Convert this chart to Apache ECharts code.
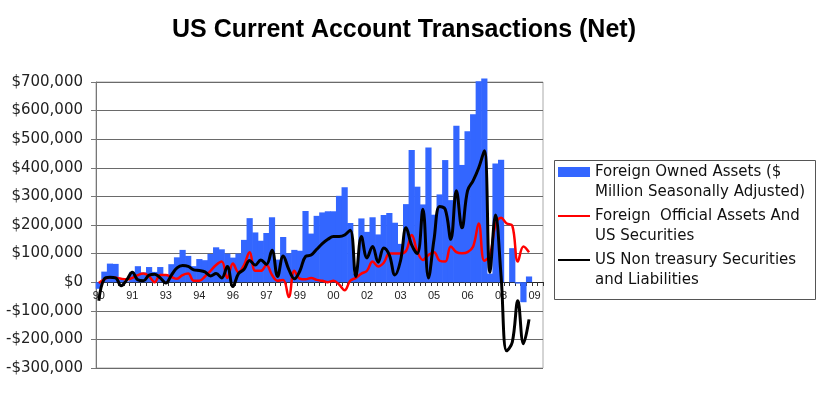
<!DOCTYPE html>
<html>
<head>
<meta charset="utf-8">
<script src="https://cdn.jsdelivr.net/npm/echarts@6/dist/echarts.min.js"></script>
<style>
html,body{margin:0;padding:0;background:#fff;}
#chart{width:820px;height:395px;}
</style>
</head>
<body>
<div id="chart"></div>
<script>
// Two-digit year labels; each year has four quarters on the category axis
const years = ['90','91','92','93','94','95','96','97','98','99','00','01','02','03','04','05','06','07','08','09'];
const quarterNames = ['Q1','Q2','Q3','Q4'];

// Foreign Owned Assets ($ Million Seasonally Adjusted), quarterly
const foreignOwned = [-23000, 37000, 65000, 64000, 8000, 3000, 36000, 56000, 34000, 53000,
  36000, 53000, 23000, 63000, 87000, 113000, 92000, 56000, 81000, 77000,
  99000, 122000, 115000, 100000, 86000, 100000, 148000, 224000, 174000, 145000,
  172000, 227000, 79000, 158000, 101000, 113000, 110000, 249000, 170000, 232000,
  244000, 248000, 248000, 302000, 332000, 207000, 30000, 223000, 176000, 227000,
  167000, 235000, 242000, 208000, 134000, 273000, 462000, 334000, 272000, 471000,
  236000, 307000, 427000, 287000, 547000, 410000, 528000, 587000, 703000, 712000,
  30000, 415000, 428000, 0, 119000, -5000, -70000, 20000, null, null];

// Foreign Official Assets And US Securities
const foreignOfficial = [-3000, 10000, 17000, 16000, 12000, 10000, 15000, 25000, 30000, 20000,
  0, 25000, 25000, 18000, 12000, 25000, 30000, 5000, 5000, 20000,
  40000, 60000, 72000, 15000, 65000, 35000, 60000, 105000, 40000, 40000,
  60000, 25000, 5000, 8000, -52000, 40000, 12000, 10000, 15000, 8000,
  5000, 0, 5000, -8000, -28000, 5000, 15000, 30000, 40000, 72000,
  55000, 68000, 100000, 100000, 100000, 110000, 165000, 108000, 78000, 95000,
  105000, 75000, 72000, 125000, 105000, 101000, 105000, 125000, 205000, 75000,
  95000, 200000, 225000, 205000, 198000, 72000, 125000, 105000, null, null];

// US Non treasury Securities and Liabilities
const nonTreasury = [-65000, 12000, 17000, 15000, -12000, 8000, 35000, 8000, 5000, 25000,
  28000, 15000, -3000, 25000, 50000, 58000, 55000, 43000, 41000, 36000,
  22000, 30000, 15000, 55000, -15000, 30000, 45000, 76000, 60000, 78000,
  62000, 112000, 20000, 92000, 45000, 12000, 40000, 90000, 95000, 115000,
  135000, 150000, 160000, 160000, 165000, 182000, 20000, 160000, 85000, 125000,
  70000, 120000, 95000, 25000, 75000, 190000, 130000, 100000, 255000, 15000,
  150000, 265000, 255000, 150000, 320000, 190000, 320000, 355000, 400000, 460000,
  35000, 235000, 20000, -240000, -210000, -65000, -215000, -130000, null, null];

const seriesNames = [
  'Foreign Owned Assets ($\nMillion Seasonally Adjusted)',
  'Foreign  Official Assets And\nUS Securities',
  'US Non treasury Securities\nand Liabilities'
];

const categories = [];
years.forEach(function (y) { quarterNames.forEach(function (q) { categories.push(y + ' ' + q); }); });

const chart = echarts.init(document.getElementById('chart'), null, {renderer: 'canvas'});

chart.setOption({
  animation: false,
  backgroundColor: '#ffffff',
  title: {
    text: 'US Current Account Transactions (Net)',
    left: 172, top: 18, padding: 0,
    textStyle: {fontFamily: 'Liberation Sans', fontWeight: 'bold', fontSize: 25, color: '#000'}
  },
  legend: {
    orient: 'vertical',
    left: 557, top: 142, padding: 0,
    itemWidth: 32, itemHeight: 10, itemGap: -16,
    selectedMode: false,
    formatter: function (name) { return '\n' + name; },
    textStyle: {fontFamily: 'DejaVu Sans', fontSize: 15, color: '#111', lineHeight: 20},
    data: [
      {name: seriesNames[0], icon: 'rect'},
      {name: seriesNames[1], itemStyle: {opacity: 0}},
      {name: seriesNames[2], itemStyle: {opacity: 0}}
    ]
  },
  graphic: [{
    type: 'rect', left: 552, top: 158, silent: true,
    shape: {width: 261, height: 139},
    style: {fill: 'none', stroke: '#555', lineWidth: 1}
  }],
  grid: {left: 96, right: 277, top: 82, bottom: 27, show: true, borderColor: '#aaaaaa', borderWidth: 1, containLabel: false},
  xAxis: {
    type: 'category',
    data: categories,
    boundaryGap: true,
    offset: -86,
    axisLine: {onZero: false, lineStyle: {color: '#222', width: 1}},
    axisTick: {show: true, interval: 0, length: 4, lineStyle: {color: '#333'}},
    axisLabel: {
      interval: 5, margin: 8,
      fontFamily: 'Liberation Sans', fontSize: 11, color: '#222',
      formatter: function (v) { return v.split(' ')[0]; }
    },
    splitLine: {show: false}
  },
  yAxis: {
    type: 'value',
    min: -300000, max: 700000, interval: 100000,
    axisLine: {show: true, lineStyle: {color: '#777'}},
    axisTick: {show: true, length: 5, lineStyle: {color: '#777'}},
    axisLabel: {
      margin: 13,
      fontFamily: 'DejaVu Sans', fontSize: 15, color: '#222',
      formatter: function (v) { return (v < 0 ? '-' : '') + '$' + Math.abs(v).toLocaleString('en-US'); }
    },
    splitLine: {show: true, lineStyle: {color: '#6a6a6a', width: 1}}
  },
  series: [
    {
      name: seriesNames[0], type: 'bar', data: foreignOwned,
      barWidth: 6.2, clip: false,
      itemStyle: {color: '#3366ff'}
    },
    {
      name: seriesNames[1], type: 'line', data: foreignOfficial,
      smooth: 0.4, symbol: 'none', showSymbol: false,
      lineStyle: {color: '#ff0000', width: 2.5},
      itemStyle: {color: '#ff0000'}
    },
    {
      name: seriesNames[2], type: 'line', data: nonTreasury,
      smooth: 0.4, symbol: 'none', showSymbol: false,
      lineStyle: {color: '#000000', width: 3},
      itemStyle: {color: '#000000'}
    }
  ]
});
</script>
</body>
</html>
